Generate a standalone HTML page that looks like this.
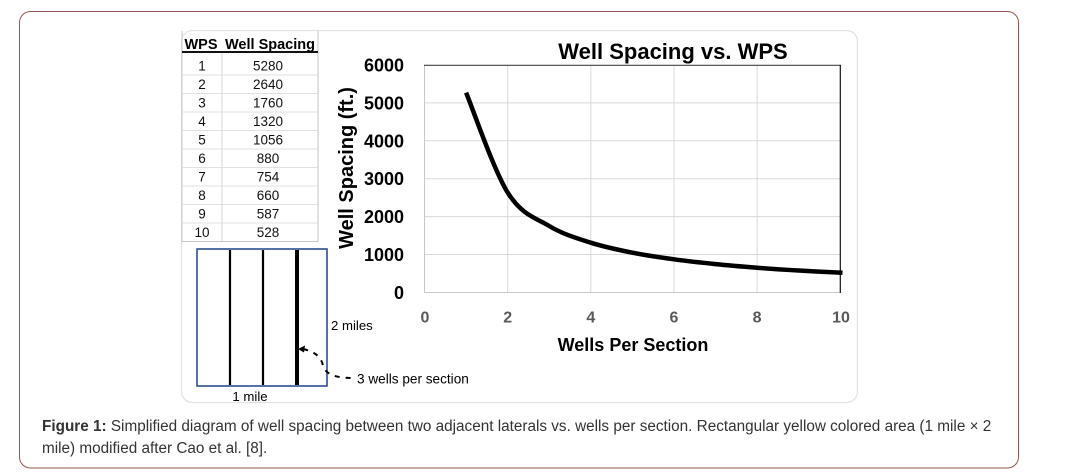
<!DOCTYPE html>
<html>
<head>
<meta charset="utf-8">
<style>
  html,body{margin:0;padding:0;background:#fff;}
  body{width:1069px;height:474px;overflow:hidden;}
  svg{display:block;}
  text{font-family:"Liberation Sans", Arial, sans-serif;}
</style>
</head>
<body>
<svg width="1069" height="474" viewBox="0 0 1069 474" xmlns="http://www.w3.org/2000/svg">
  <!-- outer frame -->
  <rect x="19.5" y="11.5" width="999" height="456.5" rx="11" ry="11" fill="#fff" stroke="#8d5b52" stroke-width="1"/>
  <!-- inner chart area -->
  <rect x="181.5" y="30.5" width="676" height="372" rx="11" ry="11" fill="#fff" stroke="#e2e2e2" stroke-width="1.2"/>

  <!-- Table -->
  <g>
    <line x1="182" y1="31" x2="182" y2="242" stroke="#c6c6c6" stroke-width="1"/>
    <line x1="318" y1="31" x2="318" y2="242" stroke="#c6c6c6" stroke-width="1"/>
    <line x1="222" y1="53" x2="222" y2="242" stroke="#d4d4d4" stroke-width="1"/>
    <line x1="182" y1="241.5" x2="318" y2="241.5" stroke="#c6c6c6" stroke-width="1"/>
    <line x1="182" y1="52" x2="318" y2="52" stroke="#111" stroke-width="2"/>
    <g stroke="#e0e0e0" stroke-width="1">
      <line x1="182" y1="75" x2="318" y2="75"/>
      <line x1="182" y1="93.5" x2="318" y2="93.5"/>
      <line x1="182" y1="112" x2="318" y2="112"/>
      <line x1="182" y1="130.5" x2="318" y2="130.5"/>
      <line x1="182" y1="149" x2="318" y2="149"/>
      <line x1="182" y1="167.5" x2="318" y2="167.5"/>
      <line x1="182" y1="186" x2="318" y2="186"/>
      <line x1="182" y1="204.5" x2="318" y2="204.5"/>
      <line x1="182" y1="223" x2="318" y2="223"/>
    </g>
    <text x="201" y="49" font-size="14.5" font-weight="bold" text-anchor="middle" fill="#000">WPS</text>
    <text x="270" y="49" font-size="14.5" font-weight="bold" text-anchor="middle" fill="#000">Well Spacing</text>
    <g font-size="13.5" fill="#111" text-anchor="middle">
      <text x="202" y="70.5">1</text><text x="268" y="70.5">5280</text>
      <text x="202" y="89">2</text><text x="268" y="89">2640</text>
      <text x="202" y="107.5">3</text><text x="268" y="107.5">1760</text>
      <text x="202" y="126">4</text><text x="268" y="126">1320</text>
      <text x="202" y="144.5">5</text><text x="268" y="144.5">1056</text>
      <text x="202" y="163">6</text><text x="268" y="163">880</text>
      <text x="202" y="181.5">7</text><text x="268" y="181.5">754</text>
      <text x="202" y="200">8</text><text x="268" y="200">660</text>
      <text x="202" y="218.5">9</text><text x="268" y="218.5">587</text>
      <text x="202" y="237">10</text><text x="268" y="237">528</text>
    </g>
  </g>

  <!-- Diagram -->
  <g>
    <rect x="197" y="249" width="130" height="137" fill="#fff" stroke="#2e4e8e" stroke-width="1.6"/>
    <line x1="230" y1="250" x2="230" y2="385" stroke="#000" stroke-width="2.2"/>
    <line x1="263" y1="250" x2="263" y2="385" stroke="#000" stroke-width="2.2"/>
    <line x1="297" y1="250" x2="297" y2="385" stroke="#000" stroke-width="4"/>
    <path d="M303,349 Q321,353 323,366 Q327,378 352,378" fill="none" stroke="#000" stroke-width="2" stroke-dasharray="5,6"/>
    <polygon points="298,349 305,345.5 304,352.5" fill="#000"/>
    <text x="331" y="330" font-size="13.2" fill="#000">2 miles</text>
    <text x="250" y="401" font-size="13.2" fill="#000" text-anchor="middle">1 mile</text>
    <text x="357" y="383.5" font-size="13.6" fill="#000">3 wells per section</text>
  </g>

  <!-- Chart -->
  <g>
    <text x="673" y="59" font-size="22" font-weight="bold" text-anchor="middle" fill="#000">Well Spacing vs. WPS</text>
    <!-- gridlines -->
    <g stroke="#d9d9d9" stroke-width="1">
      <line x1="424.5" y1="102.9" x2="840.3" y2="102.9"/>
      <line x1="424.5" y1="140.8" x2="840.3" y2="140.8"/>
      <line x1="424.5" y1="178.7" x2="840.3" y2="178.7"/>
      <line x1="424.5" y1="216.6" x2="840.3" y2="216.6"/>
      <line x1="424.5" y1="254.5" x2="840.3" y2="254.5"/>
      <line x1="507.7" y1="65" x2="507.7" y2="292.7"/>
      <line x1="590.8" y1="65" x2="590.8" y2="292.7"/>
      <line x1="674" y1="65" x2="674" y2="292.7"/>
      <line x1="757.1" y1="65" x2="757.1" y2="292.7"/>
      <line x1="424.5" y1="65" x2="424.5" y2="292.7" stroke="#c8c8c8"/>
      <line x1="424.5" y1="292.5" x2="840.3" y2="292.5" stroke="#c8c8c8"/>
    </g>
    <line x1="424" y1="65.3" x2="840.8" y2="65.3" stroke="#444" stroke-width="1.2"/>
    <line x1="840.3" y1="65" x2="840.3" y2="293" stroke="#111" stroke-width="1.2"/>

    <!-- Y tick labels -->
    <g font-size="18" font-weight="bold" text-anchor="end" fill="#000">
      <text x="404" y="71.5">6000</text>
      <text x="404" y="109.4">5000</text>
      <text x="404" y="147.3">4000</text>
      <text x="404" y="185.2">3000</text>
      <text x="404" y="223.1">2000</text>
      <text x="404" y="261">1000</text>
      <text x="404" y="298.9">0</text>
    </g>
    <!-- X tick labels -->
    <g font-size="16" font-weight="bold" text-anchor="middle" fill="#595959">
      <text x="425" y="322.5">0</text>
      <text x="507.7" y="322.5">2</text>
      <text x="590.8" y="322.5">4</text>
      <text x="674" y="322.5">6</text>
      <text x="757.1" y="322.5">8</text>
      <text x="841" y="322.5">10</text>
    </g>
    <text x="633" y="351" font-size="18" font-weight="bold" text-anchor="middle" fill="#000">Wells Per Section</text>
    <text transform="translate(353,168) rotate(-90)" font-size="20" font-weight="bold" text-anchor="middle" fill="#000">Well Spacing (ft.)</text>

    <!-- curve -->
    <path d="M466.1,92.6 C473.0,109.3 493.85,170.4 507.7,192.6 C521.55,214.8 535.35,217.65 549.2,226.0 C563.05,234.35 576.93,238.25 590.8,242.7 C604.67,247.15 618.53,249.93 632.4,252.7 C646.27,255.47 660.13,257.4 674.0,259.3 C687.87,261.2 701.75,262.7 715.6,264.1 C729.45,265.5 743.25,266.63 757.1,267.7 C770.95,268.77 784.83,269.67 798.7,270.5 C812.57,271.33 833.37,272.33 842.5,272.8" fill="none" stroke="#000" stroke-width="4.5" stroke-linejoin="round"/>
  </g>

  <!-- Caption -->
  <text x="42" y="431" font-size="15.3" fill="#333"><tspan font-weight="bold">Figure 1:</tspan> Simplified diagram of well spacing between two adjacent laterals vs. wells per section. Rectangular yellow colored area (1 mile × 2</text>
  <text x="42" y="453" font-size="15.3" fill="#333">mile) modified after Cao et al. [8].</text>
</svg>
</body>
</html>
